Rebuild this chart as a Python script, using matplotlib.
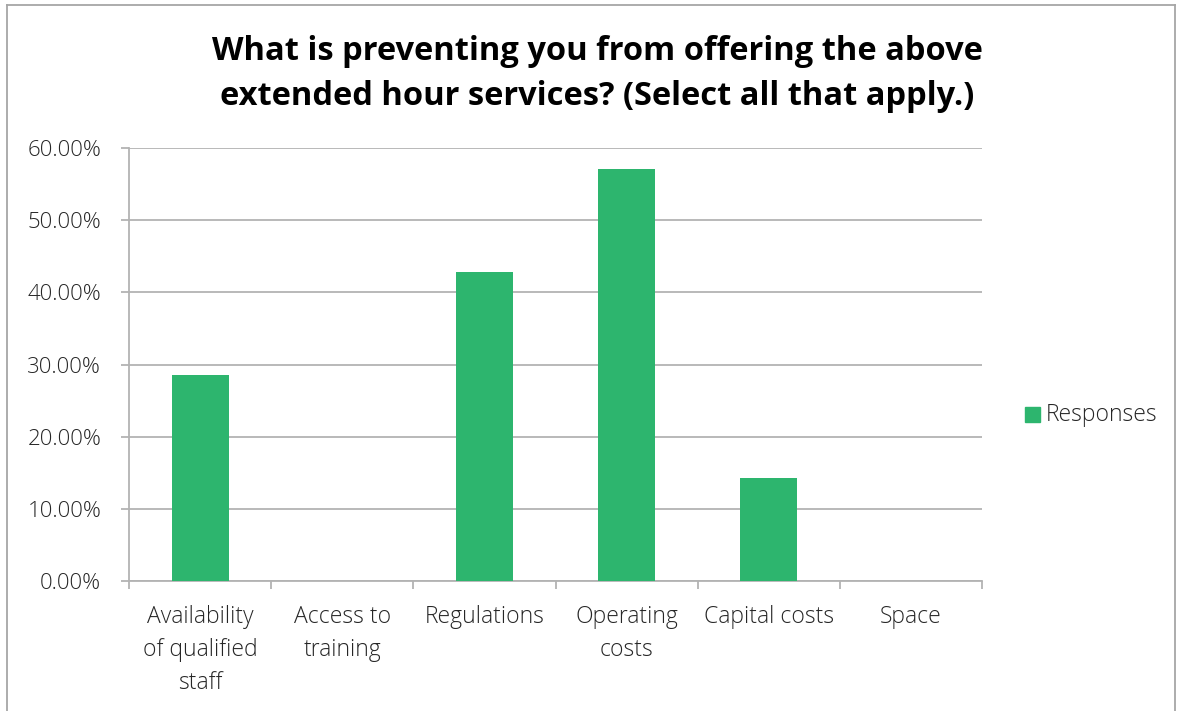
import matplotlib
matplotlib.use("Agg")
import matplotlib.pyplot as plt
from matplotlib.patches import Rectangle
from matplotlib.lines import Line2D
from matplotlib.ticker import FuncFormatter, MultipleLocator

categories = ["Availability\nof qualified\nstaff", "Access to\ntraining", "Regulations",
              "Operating\ncosts", "Capital costs", "Space"]
responses = [28.57, 0.0, 42.86, 57.14, 14.29, 0.0]
series_name = "Responses"
title = "What is preventing you from offering the above\nextended hour services? (Select all that apply.)"

FONT = "Open Sans"
WEIGHT = 300
GRID = "#b3b3b3"
BAR = "#2db56e"
TXT = "#262626"

fig = plt.figure(figsize=(11.82, 7.11), dpi=100)
ax = fig.add_axes([129/1182, 1-581/711, (982-129)/1182, (581-148)/711])

x = list(range(len(categories)))
ax.bar(x, responses, width=0.4, color=BAR, zorder=3, label=series_name)
ax.set_xlim(-0.5, len(categories)-0.5)
ax.set_ylim(0, 60)
ax.yaxis.set_major_locator(MultipleLocator(10))
ax.yaxis.set_major_formatter(FuncFormatter(lambda v, p: f"{v:.2f}%"))
ax.grid(axis="y", color=GRID, linewidth=1.3, zorder=0)
for s in ["top", "right"]:
    ax.spines[s].set_visible(False)
for s in ["left", "bottom"]:
    ax.spines[s].set_color(GRID)
    ax.spines[s].set_linewidth(1.3)

ax.set_xticks([i-0.5 for i in range(len(categories)+1)], minor=False)
ax.set_xticklabels([])
ax.tick_params(axis="x", which="major", length=6, color=GRID, width=1.3)
ax.set_xticks(x, minor=True)
ax.set_xticklabels(categories, minor=True, fontfamily=FONT, fontweight=WEIGHT, fontsize=16.5,
                   color=TXT, linespacing=1.5)
ax.tick_params(axis="x", which="minor", length=0, pad=17)
ax.tick_params(axis="y", length=6, color=GRID, width=1.3, pad=14, labelsize=16, labelcolor=TXT)
for lab in ax.get_yticklabels():
    lab.set_fontfamily(FONT)
    lab.set_fontweight(WEIGHT)

fig.text(597/1182, 1-74/711, title, ha="center", va="center", fontfamily=FONT,
         fontweight="bold", fontsize=23.5, color="black", linespacing=1.5)

# legend
fig.patches.append(Rectangle((1025/1182, 1-422/711), 15/1182, 15/711, transform=fig.transFigure,
                             color=BAR, figure=fig))
fig.text(1046/1182, 1-415/711, series_name, ha="left", va="center", fontfamily=FONT,
         fontweight=WEIGHT, fontsize=16.5, color=TXT)

# outer border
for (x0, y0, x1, y1) in [(7, 5, 7, 711), (7, 5, 1175, 5), (1175, 5, 1175, 711)]:
    fig.add_artist(Line2D([x0/1182, x1/1182], [1-y0/711, 1-y1/711], transform=fig.transFigure,
                          color="#a6a6a6", linewidth=1.3))

fig.savefig("out.png", dpi=100)
